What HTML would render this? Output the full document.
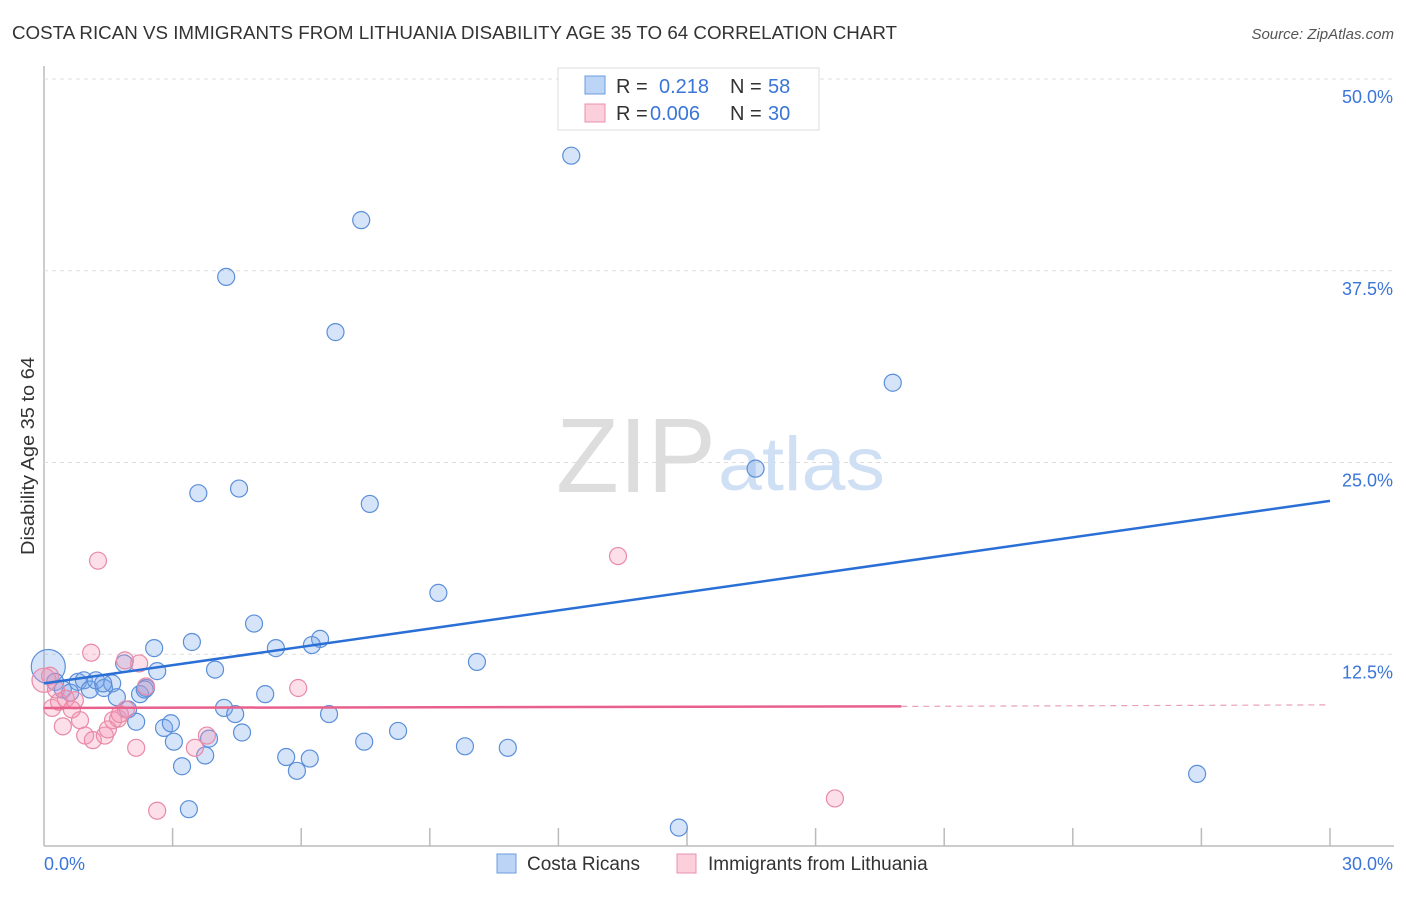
<!DOCTYPE html>
<html><head><meta charset="utf-8"><style>
body{margin:0;background:#fff;font-family:"Liberation Sans",sans-serif;}
svg text{font-family:"Liberation Sans",sans-serif;}
</style></head><body>
<svg id="chart" width="1406" height="892">
<text x="12" y="39" font-size="18" fill="#333" textLength="885" lengthAdjust="spacingAndGlyphs">COSTA RICAN VS IMMIGRANTS FROM LITHUANIA DISABILITY AGE 35 TO 64 CORRELATION CHART</text>
<text x="1394" y="39" font-size="15" fill="#555" font-style="italic" text-anchor="end">Source: ZipAtlas.com</text>
<text x="34" y="456" font-size="18" fill="#333" text-anchor="middle" textLength="198" lengthAdjust="spacingAndGlyphs" transform="rotate(-90 34 456)">Disability Age 35 to 64</text>
<g id="grid"></g>
<text x="716" y="492" font-size="106" fill="#ddd" text-anchor="end" font-family="Liberation Serif" textLength="160" lengthAdjust="spacingAndGlyphs">ZIP</text>
<text x="718" y="490" font-size="76" fill="#cfe0f5" textLength="167" lengthAdjust="spacingAndGlyphs">atlas</text>
<g id="pts"></g>
<g id="lines"></g>
<g>
<rect x="558" y="68" width="261" height="62" fill="#fff" stroke="#ddd"/>
<rect x="585" y="76" width="20" height="18" fill="#bcd4f5" stroke="#6a9be0"/>
<text x="616" y="93" font-size="20" fill="#333">R = </text><text x="659" y="93" font-size="20" fill="#3a75d8">0.218</text>
<text x="730" y="93" font-size="20" fill="#333">N = </text><text x="768" y="93" font-size="20" fill="#3a75d8">58</text>
<rect x="585" y="104" width="20" height="18" fill="#fbcfdc" stroke="#e890ad"/>
<text x="616" y="120" font-size="20" fill="#333">R = </text><text x="650" y="120" font-size="20" fill="#3a75d8">0.006</text>
<text x="730" y="120" font-size="20" fill="#333">N = </text><text x="768" y="120" font-size="20" fill="#3a75d8">30</text>
</g>
<g>
<rect x="497" y="854" width="19" height="19" fill="#bcd4f5" stroke="#6a9be0"/>
<text x="527" y="870" font-size="19" fill="#333">Costa Ricans</text>
<rect x="677" y="854" width="19" height="19" fill="#fbcfdc" stroke="#e890ad"/>
<text x="708" y="870" font-size="19" fill="#333">Immigrants from Lithuania</text>
</g>
</svg>
<script>
const xTicks=[0,30];
const yTicks=[12.5,25,37.5,50];
const blueX=[12.3,7.4,4.25,6.8,19.8,16.6,3.6,4.55,7.6,9.2,4.9,3.45,2.57,6.44,6.25,5.41,10.1,1.87,2.64,3.99,0.1,0.26,0.44,0.61,0.79,0.93,1.07,1.21,1.4,1.59,1.7,1.96,2.24,2.38,4.2,4.46,5.16,6.65,2.15,2.8,2.96,3.03,3.85,4.62,3.76,3.22,5.65,6.2,5.9,7.47,8.26,9.82,10.82,26.9,3.38,14.81,2.35,1.38];
const blueY=[45.0,40.8,37.1,33.5,30.2,24.6,23.0,23.3,22.3,16.5,14.5,13.3,12.9,13.5,13.1,12.9,12.0,11.9,11.4,11.5,11.7,10.7,10.2,10.0,10.7,10.8,10.2,10.8,10.3,10.6,9.7,8.9,9.9,10.3,9.0,8.6,9.9,8.6,8.1,7.7,8.0,6.8,7.0,7.4,5.9,5.2,5.8,5.7,4.9,6.8,7.5,6.5,6.4,4.7,2.4,1.2,10.2,10.6];
const pinkX=[1.26,13.39,1.1,1.89,2.22,5.93,2.38,0.14,0.19,0.35,0.51,0.72,0.84,0.44,0.65,0.96,1.14,1.42,1.61,1.73,1.91,1.49,2.15,3.52,3.8,2.64,18.45,0,0.28,1.77];
const pinkY=[18.6,18.9,12.6,12.1,11.9,10.3,10.4,11.1,9.0,9.4,9.6,9.5,8.2,7.8,8.9,7.2,6.9,7.2,8.2,8.3,8.9,7.6,6.4,6.4,7.2,2.3,3.1,10.8,10.2,8.6];
const blueLine=[0,10.6,30,22.5];
const pinkLine=[0,9.0,20,9.1,30,9.2];
const X=v=>44+v*(1286/30), Y=v=>846-v*(767/50);
const NS="http://www.w3.org/2000/svg";
function mk(tag,attrs,parent){const e=document.createElementNS(NS,tag);for(const k in attrs)e.setAttribute(k,attrs[k]);parent.appendChild(e);return e;}
const grid=document.getElementById('grid');
let ax=mk('line',{x1:44,y1:66,x2:44,y2:846,stroke:'#bbb','stroke-width':1.5},grid);


let bx=mk('line',{x1:44,y1:846,x2:1394,y2:846,stroke:'#bbb','stroke-width':1.5},grid);


for(let i=1;i<=10;i++){let t=mk('line',{x1:44+i*128.6,y1:828,x2:44+i*128.6,y2:846,stroke:'#bbb','stroke-width':1.5},grid);

}
yTicks.forEach(v=>{let g=mk('line',{x1:44,y1:Y(v),x2:1394,y2:Y(v),stroke:'#ddd','stroke-dasharray':'4,4'},grid);


let t=mk('text',{x:1393,y:Y(v)+24,'font-size':18,fill:'#3a75d8','text-anchor':'end'},grid);t.textContent=v.toFixed(1)+'%';

});
xTicks.forEach((v,i)=>{let t=mk('text',{x:i?1393:44,y:870,'font-size':18,fill:'#3a75d8','text-anchor':i?'end':'start'},grid);t.textContent=v.toFixed(1)+'%';

});
const pts=document.getElementById('pts');
blueX.forEach((v,i)=>{let c=mk('circle',{cx:X(v),cy:Y(blueY[i]),r:i==20?17:8.5,fill:'rgba(120,165,235,0.3)',stroke:'#5b8fd9','stroke-width':1.2},pts);

});
pinkX.forEach((v,i)=>{let c=mk('circle',{cx:X(v),cy:Y(pinkY[i]),r:i==27?12:8.5,fill:'rgba(245,150,180,0.3)',stroke:'#e88aa8','stroke-width':1.2},pts);

});
const ln=document.getElementById('lines');
let bl=mk('line',{x1:X(blueLine[0]),y1:Y(blueLine[1]),x2:X(blueLine[2]),y2:Y(blueLine[3]),stroke:'#2a6fd6','stroke-width':2.5},ln);


let pl=mk('line',{x1:X(pinkLine[0]),y1:Y(pinkLine[1]),x2:X(pinkLine[2]),y2:Y(pinkLine[3]),stroke:'#e8608c','stroke-width':2.5},ln);


let pd=mk('line',{x1:X(pinkLine[2]),y1:Y(pinkLine[3]),x2:X(pinkLine[4]),y2:Y(pinkLine[5]),stroke:'#e8a0b8','stroke-width':1.2,'stroke-dasharray':'6,5'},ln);


</script>
</body></html>
